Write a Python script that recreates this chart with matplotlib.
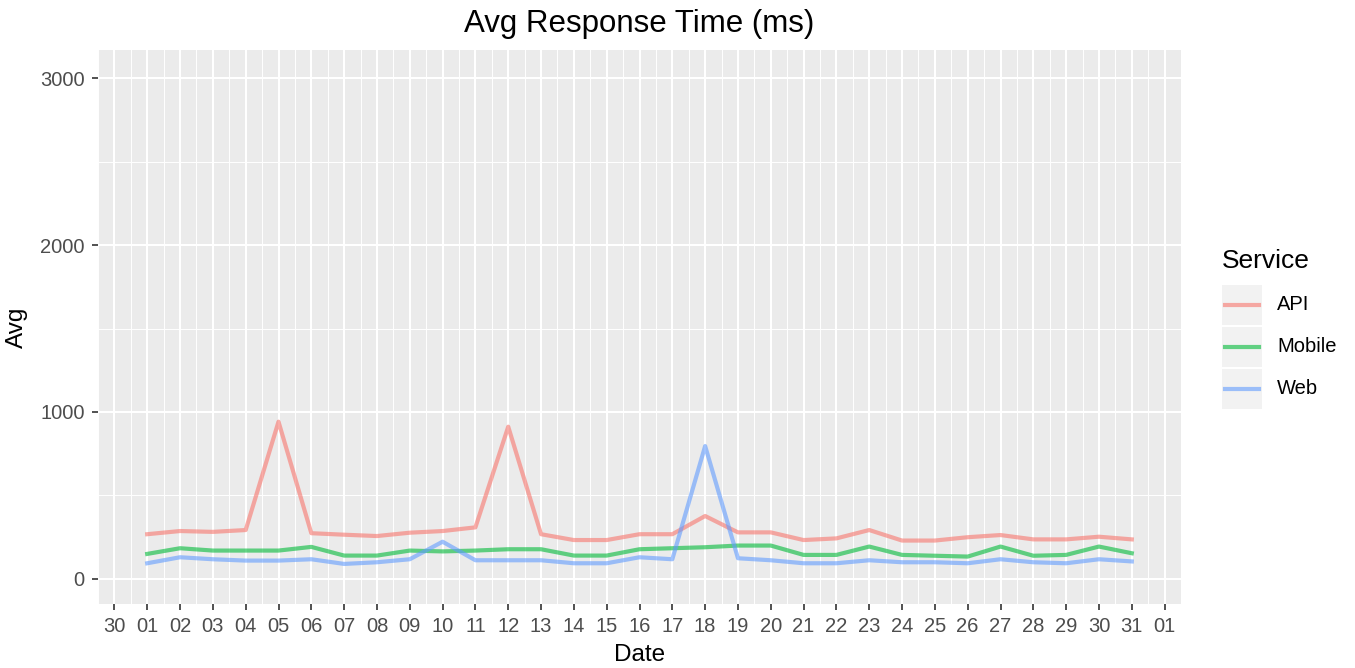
import numpy as np
import pandas as pd
import matplotlib
matplotlib.use("Agg")
import matplotlib.pyplot as plt
import matplotlib.dates as mdates
from matplotlib.patches import Rectangle
from matplotlib.lines import Line2D

plt.rcParams['font.family'] = ['Liberation Sans', 'DejaVu Sans']

dates = pd.date_range("2023-12-01", "2023-12-31", freq="D")
api = [268, 287, 282, 293, 942, 274, 265, 257, 277, 287, 309, 912, 268, 233, 233, 268,
       268, 377, 279, 279, 233, 243, 293, 230, 230, 250, 263, 237, 237, 253, 237]
mobile = [150, 184, 170, 170, 170, 192, 140, 140, 170, 165, 170, 178, 178, 140, 140, 178,
          184, 190, 200, 200, 144, 144, 194, 144, 139, 134, 194, 139, 144, 194, 154]
web = [94, 130, 118, 110, 110, 118, 90, 100, 118, 223, 112, 112, 112, 94, 94, 130,
       118, 796, 124, 112, 94, 94, 112, 100, 100, 94, 118, 100, 94, 118, 105]
services = ["API", "Mobile", "Web"]
colors = ["#F8766D", "#00BA38", "#619CFF"]

W, H = 1355, 668
fig = plt.figure(figsize=(W / 100, H / 100), dpi=100)
ax = fig.add_axes([98/W, 1 - 604/H, (1181 - 98)/W, (604 - 50)/H])
ax.set_facecolor("#EBEBEB")

for vals, c in zip([api, mobile, web], colors):
    ax.plot(dates, vals, color=c, alpha=0.6, linewidth=3, zorder=3)

ax.set_xlim(pd.Timestamp("2023-11-29 12:00"), pd.Timestamp("2024-01-01 12:00"))
ax.set_ylim(-150, 3168)
ax.set_yticks([0, 1000, 2000, 3000])
ax.set_yticks([500, 1500, 2500], minor=True)
ax.xaxis.set_major_locator(mdates.DayLocator())
ax.xaxis.set_major_formatter(mdates.DateFormatter("%d"))
ax.xaxis.set_minor_locator(mdates.HourLocator(byhour=12))

ax.grid(which="major", color="white", linewidth=1.5, zorder=0)
ax.grid(which="minor", color="white", linewidth=0.7, zorder=0)
ax.set_axisbelow(True)
for s in ax.spines.values():
    s.set_visible(False)
ax.tick_params(which="major", length=4.5, width=1.2, color="#333333",
               labelcolor="#4D4D4D", labelsize=14.5, pad=5)
ax.tick_params(which="minor", length=0)

ax.set_xlabel("Date", fontsize=17.5, va="center")
ax.xaxis.set_label_coords(0.5, -(655 - 604) / 554)
ax.set_ylabel("Avg", fontsize=17.5, va="center")
ax.yaxis.set_label_coords(-(98 - 17) / 1083, 1 - (327 - 50) / 554)
ax.set_title("Avg Response Time (ms)", fontsize=22.5, pad=13)

# legend
fig.text(1222/W, 1 - 261/H, "Service", fontsize=19, va="center", ha="left")
for i, (name, c) in enumerate(zip(services, colors)):
    top = 285 + i * 42
    fig.add_artist(Rectangle((1222/W, 1 - (top + 40)/H), 40/W, 40/H,
                             transform=fig.transFigure, facecolor="#F2F2F2", edgecolor="none"))
    yc = 1 - (top + 20)/H
    fig.add_artist(Line2D([1225/W, 1259/W], [yc, yc], transform=fig.transFigure,
                          color=c, alpha=0.6, linewidth=3))
    fig.text(1277/W, yc, name, fontsize=14.5, va="center", ha="left")

fig.savefig("out.png", dpi=100)
